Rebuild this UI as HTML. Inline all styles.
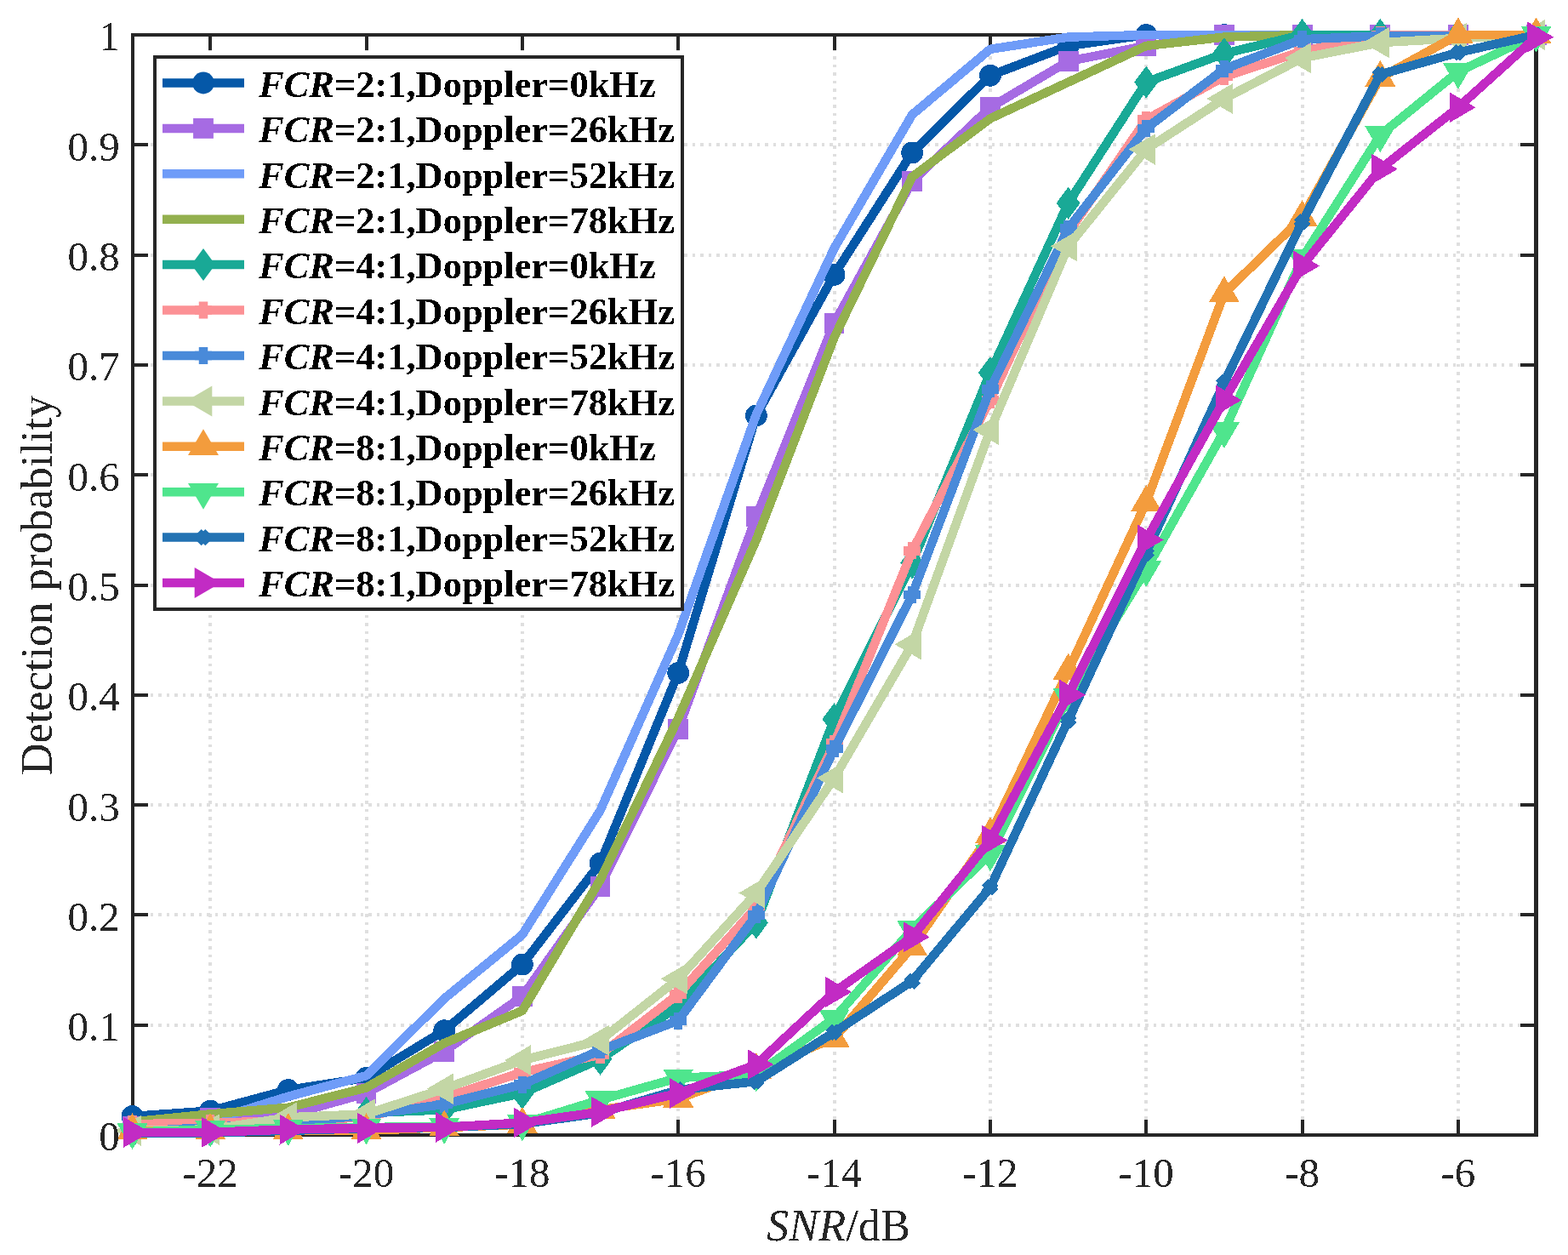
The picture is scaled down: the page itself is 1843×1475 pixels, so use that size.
<!DOCTYPE html><html><head><meta charset="utf-8"><title>Detection probability</title><style>html,body{margin:0;padding:0;background:#fff;}svg{display:block;}text{font-family:"Liberation Serif","Times New Roman",serif;}</style></head><body><svg width="1843" height="1475" viewBox="0 0 1843 1475">
<rect width="1843" height="1475" fill="#fff"/>
<path d="M247 1334.0V41.0 M431 1334.0V41.0 M614 1334.0V41.0 M797 1334.0V41.0 M981 1334.0V41.0 M1164 1334.0V41.0 M1347 1334.0V41.0 M1531 1334.0V41.0 M1714 1334.0V41.0 M1805.6 1205H155.5 M1805.6 1075H155.5 M1805.6 946H155.5 M1805.6 817H155.5 M1805.6 688H155.5 M1805.6 558H155.5 M1805.6 429H155.5 M1805.6 300H155.5 M1805.6 170H155.5" stroke="#dfdfdf" stroke-width="4" stroke-dasharray="3.5 6.009" stroke-dashoffset="0.6" fill="none" shape-rendering="crispEdges"/>
<g fill="#262626" shape-rendering="crispEdges"><rect x="154" y="39" width="4" height="1297"/><rect x="1803" y="39" width="5" height="1297"/><rect x="154" y="39" width="1654" height="4"/><rect x="154" y="1332" width="1654" height="4"/><rect x="245" y="1316" width="4" height="16"/><rect x="245" y="43" width="4" height="16"/><rect x="429" y="1316" width="4" height="16"/><rect x="429" y="43" width="4" height="16"/><rect x="612" y="1316" width="4" height="16"/><rect x="612" y="43" width="4" height="16"/><rect x="795" y="1316" width="4" height="16"/><rect x="795" y="43" width="4" height="16"/><rect x="979" y="1316" width="4" height="16"/><rect x="979" y="43" width="4" height="16"/><rect x="1162" y="1316" width="4" height="16"/><rect x="1162" y="43" width="4" height="16"/><rect x="1345" y="1316" width="4" height="16"/><rect x="1345" y="43" width="4" height="16"/><rect x="1529" y="1316" width="4" height="16"/><rect x="1529" y="43" width="4" height="16"/><rect x="1712" y="1316" width="4" height="16"/><rect x="1712" y="43" width="4" height="16"/><rect x="158" y="1203" width="16" height="4"/><rect x="1787" y="1203" width="16" height="4"/><rect x="158" y="1073" width="16" height="4"/><rect x="1787" y="1073" width="16" height="4"/><rect x="158" y="944" width="16" height="4"/><rect x="1787" y="944" width="16" height="4"/><rect x="158" y="815" width="16" height="4"/><rect x="1787" y="815" width="16" height="4"/><rect x="158" y="686" width="16" height="4"/><rect x="1787" y="686" width="16" height="4"/><rect x="158" y="556" width="16" height="4"/><rect x="1787" y="556" width="16" height="4"/><rect x="158" y="427" width="16" height="4"/><rect x="1787" y="427" width="16" height="4"/><rect x="158" y="298" width="16" height="4"/><rect x="1787" y="298" width="16" height="4"/><rect x="158" y="168" width="16" height="4"/><rect x="1787" y="168" width="16" height="4"/></g>
<g shape-rendering="crispEdges">
<polyline points="155.5,1312.0 247.2,1305.6 338.8,1281.0 430.5,1266.8 522.2,1211.2 613.9,1133.6 705.5,1014.6 797.2,790.9 888.9,488.4 980.5,322.9 1072.2,179.4 1163.9,88.8 1255.6,53.9 1347.2,41.0 1438.9,41.0 1530.6,41.0 1622.3,41.0 1713.9,41.0 1805.6,41.0" fill="none" stroke="#0558a8" stroke-width="10.5" stroke-linejoin="round" stroke-linecap="butt"/>
<circle cx="155.5" cy="1312.0" r="12.9" fill="#0558a8"/><circle cx="247.2" cy="1305.6" r="12.9" fill="#0558a8"/><circle cx="338.8" cy="1281.0" r="12.9" fill="#0558a8"/><circle cx="430.5" cy="1266.8" r="12.9" fill="#0558a8"/><circle cx="522.2" cy="1211.2" r="12.9" fill="#0558a8"/><circle cx="613.9" cy="1133.6" r="12.9" fill="#0558a8"/><circle cx="705.5" cy="1014.6" r="12.9" fill="#0558a8"/><circle cx="797.2" cy="790.9" r="12.9" fill="#0558a8"/><circle cx="888.9" cy="488.4" r="12.9" fill="#0558a8"/><circle cx="980.5" cy="322.9" r="12.9" fill="#0558a8"/><circle cx="1072.2" cy="179.4" r="12.9" fill="#0558a8"/><circle cx="1163.9" cy="88.8" r="12.9" fill="#0558a8"/><circle cx="1255.6" cy="53.9" r="12.9" fill="#0558a8"/><circle cx="1347.2" cy="41.0" r="12.9" fill="#0558a8"/><circle cx="1438.9" cy="41.0" r="12.9" fill="#0558a8"/><circle cx="1530.6" cy="41.0" r="12.9" fill="#0558a8"/><circle cx="1622.3" cy="41.0" r="12.9" fill="#0558a8"/><circle cx="1713.9" cy="41.0" r="12.9" fill="#0558a8"/><circle cx="1805.6" cy="41.0" r="12.9" fill="#0558a8"/>
<polyline points="155.5,1323.7 247.2,1314.0 338.8,1310.7 430.5,1284.9 522.2,1235.7 613.9,1171.1 705.5,1041.8 797.2,856.9 888.9,607.3 980.5,379.8 1072.2,213.0 1163.9,126.3 1255.6,72.0 1347.2,53.9 1438.9,41.0 1530.6,41.0 1622.3,41.0 1713.9,41.0 1805.6,41.0" fill="none" stroke="#a66be3" stroke-width="10.5" stroke-linejoin="round" stroke-linecap="butt"/>
<rect x="143.6" y="1311.8" width="23.8" height="23.8" fill="#a66be3"/><rect x="235.3" y="1302.1" width="23.8" height="23.8" fill="#a66be3"/><rect x="326.9" y="1298.8" width="23.8" height="23.8" fill="#a66be3"/><rect x="418.6" y="1273.0" width="23.8" height="23.8" fill="#a66be3"/><rect x="510.3" y="1223.8" width="23.8" height="23.8" fill="#a66be3"/><rect x="602.0" y="1159.2" width="23.8" height="23.8" fill="#a66be3"/><rect x="693.6" y="1029.9" width="23.8" height="23.8" fill="#a66be3"/><rect x="785.3" y="845.0" width="23.8" height="23.8" fill="#a66be3"/><rect x="877.0" y="595.4" width="23.8" height="23.8" fill="#a66be3"/><rect x="968.6" y="367.9" width="23.8" height="23.8" fill="#a66be3"/><rect x="1060.3" y="201.1" width="23.8" height="23.8" fill="#a66be3"/><rect x="1152.0" y="114.4" width="23.8" height="23.8" fill="#a66be3"/><rect x="1243.7" y="60.1" width="23.8" height="23.8" fill="#a66be3"/><rect x="1335.3" y="42.0" width="23.8" height="23.8" fill="#a66be3"/><rect x="1427.0" y="29.1" width="23.8" height="23.8" fill="#a66be3"/><rect x="1518.7" y="29.1" width="23.8" height="23.8" fill="#a66be3"/><rect x="1610.4" y="29.1" width="23.8" height="23.8" fill="#a66be3"/><rect x="1702.0" y="29.1" width="23.8" height="23.8" fill="#a66be3"/><rect x="1793.7" y="29.1" width="23.8" height="23.8" fill="#a66be3"/>
<polyline points="155.5,1321.1 247.2,1317.2 338.8,1288.7 430.5,1264.2 522.2,1173.7 613.9,1098.7 705.5,952.6 797.2,745.7 888.9,487.1 980.5,291.8 1072.2,134.7 1163.9,57.8 1255.6,43.6 1347.2,41.0 1438.9,41.0 1530.6,41.0 1622.3,41.0 1713.9,41.0 1805.6,41.0" fill="none" stroke="#6f9cf8" stroke-width="10.5" stroke-linejoin="round" stroke-linecap="butt"/>
<polyline points="155.5,1318.5 247.2,1309.4 338.8,1301.7 430.5,1278.4 522.2,1226.0 613.9,1187.9 705.5,1034.0 797.2,844.0 888.9,634.5 980.5,396.6 1072.2,207.8 1163.9,139.3 1255.6,96.6 1347.2,53.9 1438.9,43.6 1530.6,41.0 1622.3,41.0 1713.9,41.0 1805.6,41.0" fill="none" stroke="#93b04e" stroke-width="10.5" stroke-linejoin="round" stroke-linecap="butt"/>
<polyline points="155.5,1331.4 247.2,1328.8 338.8,1322.4 430.5,1308.1 522.2,1304.3 613.9,1284.9 705.5,1244.8 797.2,1182.7 888.9,1084.5 980.5,845.2 1072.2,661.6 1163.9,438.0 1255.6,238.8 1347.2,96.6 1438.9,63.0 1530.6,41.0 1622.3,41.0 1713.9,41.0 1805.6,41.0" fill="none" stroke="#19a996" stroke-width="10.5" stroke-linejoin="round" stroke-linecap="butt"/>
<polygon points="155.5,1312.4 169.5,1331.4 155.5,1350.4 141.5,1331.4" fill="#19a996"/><polygon points="247.2,1309.8 261.2,1328.8 247.2,1347.8 233.2,1328.8" fill="#19a996"/><polygon points="338.8,1303.4 352.8,1322.4 338.8,1341.4 324.8,1322.4" fill="#19a996"/><polygon points="430.5,1289.1 444.5,1308.1 430.5,1327.1 416.5,1308.1" fill="#19a996"/><polygon points="522.2,1285.3 536.2,1304.3 522.2,1323.3 508.2,1304.3" fill="#19a996"/><polygon points="613.9,1265.9 627.9,1284.9 613.9,1303.9 599.9,1284.9" fill="#19a996"/><polygon points="705.5,1225.8 719.5,1244.8 705.5,1263.8 691.5,1244.8" fill="#19a996"/><polygon points="797.2,1163.7 811.2,1182.7 797.2,1201.7 783.2,1182.7" fill="#19a996"/><polygon points="888.9,1065.5 902.9,1084.5 888.9,1103.5 874.9,1084.5" fill="#19a996"/><polygon points="980.5,826.2 994.5,845.2 980.5,864.2 966.5,845.2" fill="#19a996"/><polygon points="1072.2,642.6 1086.2,661.6 1072.2,680.6 1058.2,661.6" fill="#19a996"/><polygon points="1163.9,419.0 1177.9,438.0 1163.9,457.0 1149.9,438.0" fill="#19a996"/><polygon points="1255.6,219.8 1269.6,238.8 1255.6,257.8 1241.6,238.8" fill="#19a996"/><polygon points="1347.2,77.6 1361.2,96.6 1347.2,115.6 1333.2,96.6" fill="#19a996"/><polygon points="1438.9,44.0 1452.9,63.0 1438.9,82.0 1424.9,63.0" fill="#19a996"/><polygon points="1530.6,22.0 1544.6,41.0 1530.6,60.0 1516.6,41.0" fill="#19a996"/><polygon points="1622.3,22.0 1636.3,41.0 1622.3,60.0 1608.3,41.0" fill="#19a996"/><polygon points="1713.9,22.0 1727.9,41.0 1713.9,60.0 1699.9,41.0" fill="#19a996"/><polygon points="1805.6,22.0 1819.6,41.0 1805.6,60.0 1791.6,41.0" fill="#19a996"/>
<polyline points="155.5,1321.1 247.2,1319.8 338.8,1317.2 430.5,1313.3 522.2,1290.0 613.9,1260.3 705.5,1239.6 797.2,1168.5 888.9,1066.3 980.5,873.7 1072.2,647.4 1163.9,470.3 1255.6,273.7 1347.2,140.6 1438.9,90.1 1530.6,60.4 1622.3,41.0 1713.9,41.0 1805.6,41.0" fill="none" stroke="#fc9195" stroke-width="10.5" stroke-linejoin="round" stroke-linecap="butt"/>
<path d="M145.5 1321.1h20M155.5 1311.1v20" stroke="#fc9195" stroke-width="10.5" fill="none"/><path d="M237.2 1319.8h20M247.2 1309.8v20" stroke="#fc9195" stroke-width="10.5" fill="none"/><path d="M328.8 1317.2h20M338.8 1307.2v20" stroke="#fc9195" stroke-width="10.5" fill="none"/><path d="M420.5 1313.3h20M430.5 1303.3v20" stroke="#fc9195" stroke-width="10.5" fill="none"/><path d="M512.2 1290.0h20M522.2 1280.0v20" stroke="#fc9195" stroke-width="10.5" fill="none"/><path d="M603.9 1260.3h20M613.9 1250.3v20" stroke="#fc9195" stroke-width="10.5" fill="none"/><path d="M695.5 1239.6h20M705.5 1229.6v20" stroke="#fc9195" stroke-width="10.5" fill="none"/><path d="M787.2 1168.5h20M797.2 1158.5v20" stroke="#fc9195" stroke-width="10.5" fill="none"/><path d="M878.9 1066.3h20M888.9 1056.3v20" stroke="#fc9195" stroke-width="10.5" fill="none"/><path d="M970.5 873.7h20M980.5 863.7v20" stroke="#fc9195" stroke-width="10.5" fill="none"/><path d="M1062.2 647.4h20M1072.2 637.4v20" stroke="#fc9195" stroke-width="10.5" fill="none"/><path d="M1153.9 470.3h20M1163.9 460.3v20" stroke="#fc9195" stroke-width="10.5" fill="none"/><path d="M1245.6 273.7h20M1255.6 263.7v20" stroke="#fc9195" stroke-width="10.5" fill="none"/><path d="M1337.2 140.6h20M1347.2 130.6v20" stroke="#fc9195" stroke-width="10.5" fill="none"/><path d="M1428.9 90.1h20M1438.9 80.1v20" stroke="#fc9195" stroke-width="10.5" fill="none"/><path d="M1520.6 60.4h20M1530.6 50.4v20" stroke="#fc9195" stroke-width="10.5" fill="none"/><path d="M1612.3 41.0h20M1622.3 31.0v20" stroke="#fc9195" stroke-width="10.5" fill="none"/><path d="M1703.9 41.0h20M1713.9 31.0v20" stroke="#fc9195" stroke-width="10.5" fill="none"/><path d="M1795.6 41.0h20M1805.6 31.0v20" stroke="#fc9195" stroke-width="10.5" fill="none"/>
<polyline points="155.5,1330.1 247.2,1324.9 338.8,1319.8 430.5,1310.7 522.2,1297.8 613.9,1274.5 705.5,1234.4 797.2,1199.5 888.9,1075.4 980.5,880.2 1072.2,699.1 1163.9,457.3 1255.6,268.6 1347.2,150.9 1438.9,81.1 1530.6,46.2 1622.3,42.3 1713.9,42.3 1805.6,41.0" fill="none" stroke="#498ad9" stroke-width="10.5" stroke-linejoin="round" stroke-linecap="butt"/>
<path d="M145.5 1330.1h20M155.5 1320.1v20" stroke="#498ad9" stroke-width="10.5" fill="none"/><path d="M237.2 1324.9h20M247.2 1314.9v20" stroke="#498ad9" stroke-width="10.5" fill="none"/><path d="M328.8 1319.8h20M338.8 1309.8v20" stroke="#498ad9" stroke-width="10.5" fill="none"/><path d="M420.5 1310.7h20M430.5 1300.7v20" stroke="#498ad9" stroke-width="10.5" fill="none"/><path d="M512.2 1297.8h20M522.2 1287.8v20" stroke="#498ad9" stroke-width="10.5" fill="none"/><path d="M603.9 1274.5h20M613.9 1264.5v20" stroke="#498ad9" stroke-width="10.5" fill="none"/><path d="M695.5 1234.4h20M705.5 1224.4v20" stroke="#498ad9" stroke-width="10.5" fill="none"/><path d="M787.2 1199.5h20M797.2 1189.5v20" stroke="#498ad9" stroke-width="10.5" fill="none"/><path d="M878.9 1075.4h20M888.9 1065.4v20" stroke="#498ad9" stroke-width="10.5" fill="none"/><path d="M970.5 880.2h20M980.5 870.2v20" stroke="#498ad9" stroke-width="10.5" fill="none"/><path d="M1062.2 699.1h20M1072.2 689.1v20" stroke="#498ad9" stroke-width="10.5" fill="none"/><path d="M1153.9 457.3h20M1163.9 447.3v20" stroke="#498ad9" stroke-width="10.5" fill="none"/><path d="M1245.6 268.6h20M1255.6 258.6v20" stroke="#498ad9" stroke-width="10.5" fill="none"/><path d="M1337.2 150.9h20M1347.2 140.9v20" stroke="#498ad9" stroke-width="10.5" fill="none"/><path d="M1428.9 81.1h20M1438.9 71.1v20" stroke="#498ad9" stroke-width="10.5" fill="none"/><path d="M1520.6 46.2h20M1530.6 36.2v20" stroke="#498ad9" stroke-width="10.5" fill="none"/><path d="M1612.3 42.3h20M1622.3 32.3v20" stroke="#498ad9" stroke-width="10.5" fill="none"/><path d="M1703.9 42.3h20M1713.9 32.3v20" stroke="#498ad9" stroke-width="10.5" fill="none"/><path d="M1795.6 41.0h20M1805.6 31.0v20" stroke="#498ad9" stroke-width="10.5" fill="none"/>
<polyline points="155.5,1328.8 247.2,1327.5 338.8,1313.3 430.5,1309.4 522.2,1279.7 613.9,1246.1 705.5,1222.8 797.2,1150.4 888.9,1049.5 980.5,914.4 1072.2,757.3 1163.9,505.2 1255.6,289.3 1347.2,175.5 1438.9,116.0 1530.6,68.2 1622.3,50.1 1713.9,44.9 1805.6,41.0" fill="none" stroke="#c3d6a5" stroke-width="10.5" stroke-linejoin="round" stroke-linecap="butt"/>
<polygon points="135.0,1328.8 165.8,1310.8 165.8,1346.8" fill="#c3d6a5"/><polygon points="226.7,1327.5 257.5,1309.5 257.5,1345.5" fill="#c3d6a5"/><polygon points="318.3,1313.3 349.1,1295.3 349.1,1331.3" fill="#c3d6a5"/><polygon points="410.0,1309.4 440.8,1291.4 440.8,1327.4" fill="#c3d6a5"/><polygon points="501.7,1279.7 532.5,1261.7 532.5,1297.7" fill="#c3d6a5"/><polygon points="593.4,1246.1 624.2,1228.1 624.2,1264.1" fill="#c3d6a5"/><polygon points="685.0,1222.8 715.8,1204.8 715.8,1240.8" fill="#c3d6a5"/><polygon points="776.7,1150.4 807.5,1132.4 807.5,1168.4" fill="#c3d6a5"/><polygon points="868.4,1049.5 899.2,1031.5 899.2,1067.5" fill="#c3d6a5"/><polygon points="960.0,914.4 990.8,896.4 990.8,932.4" fill="#c3d6a5"/><polygon points="1051.7,757.3 1082.5,739.3 1082.5,775.3" fill="#c3d6a5"/><polygon points="1143.4,505.2 1174.2,487.2 1174.2,523.2" fill="#c3d6a5"/><polygon points="1235.1,289.3 1265.9,271.3 1265.9,307.3" fill="#c3d6a5"/><polygon points="1326.7,175.5 1357.5,157.5 1357.5,193.5" fill="#c3d6a5"/><polygon points="1418.4,116.0 1449.2,98.0 1449.2,134.0" fill="#c3d6a5"/><polygon points="1510.1,68.2 1540.9,50.2 1540.9,86.2" fill="#c3d6a5"/><polygon points="1601.8,50.1 1632.6,32.1 1632.6,68.1" fill="#c3d6a5"/><polygon points="1693.4,44.9 1724.2,26.9 1724.2,62.9" fill="#c3d6a5"/><polygon points="1785.1,41.0 1815.9,23.0 1815.9,59.0" fill="#c3d6a5"/>
<polyline points="155.5,1328.8 247.2,1328.8 338.8,1328.8 430.5,1328.8 522.2,1325.1 613.9,1321.6 705.5,1304.3 797.2,1291.3 888.9,1257.7 980.5,1220.2 1072.2,1112.9 1163.9,981.0 1255.6,788.4 1347.2,590.5 1438.9,344.9 1530.6,255.6 1622.3,91.4 1713.9,41.0 1805.6,41.0" fill="none" stroke="#f39c3d" stroke-width="10.5" stroke-linejoin="round" stroke-linecap="butt"/>
<polygon points="155.5,1308.2 173.5,1339.1 137.5,1339.1" fill="#f39c3d"/><polygon points="247.2,1308.2 265.2,1339.1 229.2,1339.1" fill="#f39c3d"/><polygon points="338.8,1308.2 356.8,1339.1 320.8,1339.1" fill="#f39c3d"/><polygon points="430.5,1308.2 448.5,1339.1 412.5,1339.1" fill="#f39c3d"/><polygon points="522.2,1304.5 540.2,1335.4 504.2,1335.4" fill="#f39c3d"/><polygon points="613.9,1301.0 631.9,1331.9 595.9,1331.9" fill="#f39c3d"/><polygon points="705.5,1283.7 723.5,1314.6 687.5,1314.6" fill="#f39c3d"/><polygon points="797.2,1270.7 815.2,1301.6 779.2,1301.6" fill="#f39c3d"/><polygon points="888.9,1237.1 906.9,1268.0 870.9,1268.0" fill="#f39c3d"/><polygon points="980.5,1199.6 998.5,1230.5 962.5,1230.5" fill="#f39c3d"/><polygon points="1072.2,1092.3 1090.2,1123.2 1054.2,1123.2" fill="#f39c3d"/><polygon points="1163.9,960.4 1181.9,991.3 1145.9,991.3" fill="#f39c3d"/><polygon points="1255.6,767.8 1273.6,798.7 1237.6,798.7" fill="#f39c3d"/><polygon points="1347.2,569.9 1365.2,600.8 1329.2,600.8" fill="#f39c3d"/><polygon points="1438.9,324.3 1456.9,355.2 1420.9,355.2" fill="#f39c3d"/><polygon points="1530.6,235.0 1548.6,265.9 1512.6,265.9" fill="#f39c3d"/><polygon points="1622.3,70.8 1640.3,101.7 1604.3,101.7" fill="#f39c3d"/><polygon points="1713.9,20.4 1731.9,51.3 1695.9,51.3" fill="#f39c3d"/><polygon points="1805.6,20.4 1823.6,51.3 1787.6,51.3" fill="#f39c3d"/>
<polyline points="155.5,1330.6 247.2,1327.5 338.8,1326.2 430.5,1324.9 522.2,1324.3 613.9,1320.7 705.5,1292.6 797.2,1266.8 888.9,1262.9 980.5,1196.9 1072.2,1092.2 1163.9,1003.6 1255.6,819.4 1347.2,669.4 1438.9,506.5 1530.6,303.5 1622.3,158.7 1713.9,84.3 1805.6,41.0" fill="none" stroke="#4fe58d" stroke-width="10.5" stroke-linejoin="round" stroke-linecap="butt"/>
<polygon points="155.5,1351.2 173.5,1320.3 137.5,1320.3" fill="#4fe58d"/><polygon points="247.2,1348.1 265.2,1317.2 229.2,1317.2" fill="#4fe58d"/><polygon points="338.8,1346.8 356.8,1315.9 320.8,1315.9" fill="#4fe58d"/><polygon points="430.5,1345.5 448.5,1314.6 412.5,1314.6" fill="#4fe58d"/><polygon points="522.2,1344.9 540.2,1314.0 504.2,1314.0" fill="#4fe58d"/><polygon points="613.9,1341.3 631.9,1310.4 595.9,1310.4" fill="#4fe58d"/><polygon points="705.5,1313.2 723.5,1282.3 687.5,1282.3" fill="#4fe58d"/><polygon points="797.2,1287.4 815.2,1256.5 779.2,1256.5" fill="#4fe58d"/><polygon points="888.9,1283.5 906.9,1252.6 870.9,1252.6" fill="#4fe58d"/><polygon points="980.5,1217.5 998.5,1186.6 962.5,1186.6" fill="#4fe58d"/><polygon points="1072.2,1112.8 1090.2,1081.9 1054.2,1081.9" fill="#4fe58d"/><polygon points="1163.9,1024.2 1181.9,993.3 1145.9,993.3" fill="#4fe58d"/><polygon points="1255.6,840.0 1273.6,809.1 1237.6,809.1" fill="#4fe58d"/><polygon points="1347.2,690.0 1365.2,659.1 1329.2,659.1" fill="#4fe58d"/><polygon points="1438.9,527.1 1456.9,496.2 1420.9,496.2" fill="#4fe58d"/><polygon points="1530.6,324.1 1548.6,293.2 1512.6,293.2" fill="#4fe58d"/><polygon points="1622.3,179.3 1640.3,148.4 1604.3,148.4" fill="#4fe58d"/><polygon points="1713.9,104.9 1731.9,74.0 1695.9,74.0" fill="#4fe58d"/><polygon points="1805.6,61.6 1823.6,30.7 1787.6,30.7" fill="#4fe58d"/>
<polyline points="155.5,1332.1 247.2,1331.4 338.8,1328.8 430.5,1326.2 522.2,1324.9 613.9,1321.1 705.5,1308.1 797.2,1281.0 888.9,1271.0 980.5,1213.2 1072.2,1153.0 1163.9,1043.1 1255.6,846.5 1347.2,650.0 1438.9,449.6 1530.6,260.8 1622.3,87.5 1713.9,61.7 1805.6,41.0" fill="none" stroke="#2272b3" stroke-width="10.5" stroke-linejoin="round" stroke-linecap="butt"/>
<path d="M149.5 1326.1L161.5 1338.1M149.5 1338.1L161.5 1326.1" stroke="#2272b3" stroke-width="10.5" fill="none"/><path d="M241.2 1325.4L253.2 1337.4M241.2 1337.4L253.2 1325.4" stroke="#2272b3" stroke-width="10.5" fill="none"/><path d="M332.8 1322.8L344.8 1334.8M332.8 1334.8L344.8 1322.8" stroke="#2272b3" stroke-width="10.5" fill="none"/><path d="M424.5 1320.2L436.5 1332.2M424.5 1332.2L436.5 1320.2" stroke="#2272b3" stroke-width="10.5" fill="none"/><path d="M516.2 1318.9L528.2 1330.9M516.2 1330.9L528.2 1318.9" stroke="#2272b3" stroke-width="10.5" fill="none"/><path d="M607.9 1315.1L619.9 1327.1M607.9 1327.1L619.9 1315.1" stroke="#2272b3" stroke-width="10.5" fill="none"/><path d="M699.5 1302.1L711.5 1314.1M699.5 1314.1L711.5 1302.1" stroke="#2272b3" stroke-width="10.5" fill="none"/><path d="M791.2 1275.0L803.2 1287.0M791.2 1287.0L803.2 1275.0" stroke="#2272b3" stroke-width="10.5" fill="none"/><path d="M882.9 1265.0L894.9 1277.0M882.9 1277.0L894.9 1265.0" stroke="#2272b3" stroke-width="10.5" fill="none"/><path d="M974.5 1207.2L986.5 1219.2M974.5 1219.2L986.5 1207.2" stroke="#2272b3" stroke-width="10.5" fill="none"/><path d="M1066.2 1147.0L1078.2 1159.0M1066.2 1159.0L1078.2 1147.0" stroke="#2272b3" stroke-width="10.5" fill="none"/><path d="M1157.9 1037.1L1169.9 1049.1M1157.9 1049.1L1169.9 1037.1" stroke="#2272b3" stroke-width="10.5" fill="none"/><path d="M1249.6 840.5L1261.6 852.5M1249.6 852.5L1261.6 840.5" stroke="#2272b3" stroke-width="10.5" fill="none"/><path d="M1341.2 644.0L1353.2 656.0M1341.2 656.0L1353.2 644.0" stroke="#2272b3" stroke-width="10.5" fill="none"/><path d="M1432.9 443.6L1444.9 455.6M1432.9 455.6L1444.9 443.6" stroke="#2272b3" stroke-width="10.5" fill="none"/><path d="M1524.6 254.8L1536.6 266.8M1524.6 266.8L1536.6 254.8" stroke="#2272b3" stroke-width="10.5" fill="none"/><path d="M1616.3 81.5L1628.3 93.5M1616.3 93.5L1628.3 81.5" stroke="#2272b3" stroke-width="10.5" fill="none"/><path d="M1707.9 55.7L1719.9 67.7M1707.9 67.7L1719.9 55.7" stroke="#2272b3" stroke-width="10.5" fill="none"/><path d="M1799.6 35.0L1811.6 47.0M1799.6 47.0L1811.6 35.0" stroke="#2272b3" stroke-width="10.5" fill="none"/>
<polyline points="155.5,1330.8 247.2,1330.8 338.8,1327.5 430.5,1325.9 522.2,1324.9 613.9,1319.5 705.5,1306.8 797.2,1284.9 888.9,1251.2 980.5,1165.9 1072.2,1101.3 1163.9,987.5 1255.6,816.8 1347.2,634.5 1438.9,470.3 1530.6,312.5 1622.3,198.7 1713.9,126.3 1805.6,43.6" fill="none" stroke="#c22bc4" stroke-width="10.5" stroke-linejoin="round" stroke-linecap="butt"/>
<polygon points="176.0,1330.8 145.2,1312.8 145.2,1348.8" fill="#c22bc4"/><polygon points="267.7,1330.8 236.9,1312.8 236.9,1348.8" fill="#c22bc4"/><polygon points="359.3,1327.5 328.5,1309.5 328.5,1345.5" fill="#c22bc4"/><polygon points="451.0,1325.9 420.2,1307.9 420.2,1343.9" fill="#c22bc4"/><polygon points="542.7,1324.9 511.9,1306.9 511.9,1342.9" fill="#c22bc4"/><polygon points="634.4,1319.5 603.6,1301.5 603.6,1337.5" fill="#c22bc4"/><polygon points="726.0,1306.8 695.2,1288.8 695.2,1324.8" fill="#c22bc4"/><polygon points="817.7,1284.9 786.9,1266.9 786.9,1302.9" fill="#c22bc4"/><polygon points="909.4,1251.2 878.6,1233.2 878.6,1269.2" fill="#c22bc4"/><polygon points="1001.0,1165.9 970.2,1147.9 970.2,1183.9" fill="#c22bc4"/><polygon points="1092.7,1101.3 1061.9,1083.3 1061.9,1119.3" fill="#c22bc4"/><polygon points="1184.4,987.5 1153.6,969.5 1153.6,1005.5" fill="#c22bc4"/><polygon points="1276.1,816.8 1245.3,798.8 1245.3,834.8" fill="#c22bc4"/><polygon points="1367.7,634.5 1336.9,616.5 1336.9,652.5" fill="#c22bc4"/><polygon points="1459.4,470.3 1428.6,452.3 1428.6,488.3" fill="#c22bc4"/><polygon points="1551.1,312.5 1520.3,294.5 1520.3,330.5" fill="#c22bc4"/><polygon points="1642.8,198.7 1612.0,180.7 1612.0,216.7" fill="#c22bc4"/><polygon points="1734.4,126.3 1703.6,108.3 1703.6,144.3" fill="#c22bc4"/><polygon points="1826.1,43.6 1795.3,25.6 1795.3,61.6" fill="#c22bc4"/>
</g>
<defs><filter id="bin" x="0" y="0" width="1843" height="1475" filterUnits="userSpaceOnUse"><feComponentTransfer><feFuncA type="discrete" tableValues="0 1"/></feComponentTransfer></filter></defs>
<g filter="url(#bin)">
<g font-size="49" fill="#262626"><text x="247.2" y="1394.6" text-anchor="middle">-22</text><text x="430.5" y="1394.6" text-anchor="middle">-20</text><text x="613.9" y="1394.6" text-anchor="middle">-18</text><text x="797.2" y="1394.6" text-anchor="middle">-16</text><text x="980.5" y="1394.6" text-anchor="middle">-14</text><text x="1163.9" y="1394.6" text-anchor="middle">-12</text><text x="1347.2" y="1394.6" text-anchor="middle">-10</text><text x="1530.6" y="1394.6" text-anchor="middle">-8</text><text x="1713.9" y="1394.6" text-anchor="middle">-6</text><text x="140.8" y="1352.4" text-anchor="end">0</text><text x="140.8" y="1223.1" text-anchor="end">0.1</text><text x="140.8" y="1093.8" text-anchor="end">0.2</text><text x="140.8" y="964.5" text-anchor="end">0.3</text><text x="140.8" y="835.2" text-anchor="end">0.4</text><text x="140.8" y="705.9" text-anchor="end">0.5</text><text x="140.8" y="576.6" text-anchor="end">0.6</text><text x="140.8" y="447.3" text-anchor="end">0.7</text><text x="140.8" y="318.0" text-anchor="end">0.8</text><text x="140.8" y="188.7" text-anchor="end">0.9</text><text x="140.8" y="59.4" text-anchor="end">1</text></g>
<text x="985.5" y="1457.5" text-anchor="middle" font-size="52.4" fill="#262626"><tspan font-style="italic">SNR</tspan>/dB</text>
<text transform="translate(60.6 688) rotate(-90)" text-anchor="middle" font-size="52.4" fill="#262626">Detection probability</text>
</g>
<rect x="182" y="67" width="620" height="649" fill="#fff"/>
<g fill="#262626" shape-rendering="crispEdges"><rect x="180" y="65" width="4" height="653"/><rect x="800" y="65" width="4" height="653"/><rect x="180" y="65" width="624" height="4"/><rect x="180" y="714" width="624" height="4"/></g>
<line x1="191" y1="97.5" x2="287" y2="97.5" stroke="#0558a8" stroke-width="10.5"/>
<circle cx="239.0" cy="97.5" r="12.9" fill="#0558a8"/>
<line x1="191" y1="150.9" x2="287" y2="150.9" stroke="#a66be3" stroke-width="10.5"/>
<rect x="227.1" y="139.0" width="23.8" height="23.8" fill="#a66be3"/>
<line x1="191" y1="204.3" x2="287" y2="204.3" stroke="#6f9cf8" stroke-width="10.5"/>
<line x1="191" y1="257.7" x2="287" y2="257.7" stroke="#93b04e" stroke-width="10.5"/>
<line x1="191" y1="311.1" x2="287" y2="311.1" stroke="#19a996" stroke-width="10.5"/>
<polygon points="239.0,292.1 253.0,311.1 239.0,330.1 225.0,311.1" fill="#19a996"/>
<line x1="191" y1="364.5" x2="287" y2="364.5" stroke="#fc9195" stroke-width="10.5"/>
<path d="M229.0 364.5h20M239.0 354.5v20" stroke="#fc9195" stroke-width="10.5" fill="none"/>
<line x1="191" y1="418.0" x2="287" y2="418.0" stroke="#498ad9" stroke-width="10.5"/>
<path d="M229.0 418.0h20M239.0 408.0v20" stroke="#498ad9" stroke-width="10.5" fill="none"/>
<line x1="191" y1="471.4" x2="287" y2="471.4" stroke="#c3d6a5" stroke-width="10.5"/>
<polygon points="218.5,471.4 249.3,453.4 249.3,489.4" fill="#c3d6a5"/>
<line x1="191" y1="524.8" x2="287" y2="524.8" stroke="#f39c3d" stroke-width="10.5"/>
<polygon points="239.0,504.2 257.0,535.1 221.0,535.1" fill="#f39c3d"/>
<line x1="191" y1="578.2" x2="287" y2="578.2" stroke="#4fe58d" stroke-width="10.5"/>
<polygon points="239.0,598.8 257.0,567.9 221.0,567.9" fill="#4fe58d"/>
<line x1="191" y1="631.6" x2="287" y2="631.6" stroke="#2272b3" stroke-width="10.5"/>
<path d="M233.0 625.6L245.0 637.6M233.0 637.6L245.0 625.6" stroke="#2272b3" stroke-width="10.5" fill="none"/>
<line x1="191" y1="685.0" x2="287" y2="685.0" stroke="#c22bc4" stroke-width="10.5"/>
<polygon points="259.5,685.0 228.7,667.0 228.7,703.0" fill="#c22bc4"/>
<g filter="url(#bin)"><text x="304" y="113.7" font-size="44.45" font-weight="bold" fill="#000"><tspan font-style="italic">FCR</tspan>=2:1,Doppler=0kHz</text><text x="304" y="167.1" font-size="44.45" font-weight="bold" fill="#000"><tspan font-style="italic">FCR</tspan>=2:1,Doppler=26kHz</text><text x="304" y="220.5" font-size="44.45" font-weight="bold" fill="#000"><tspan font-style="italic">FCR</tspan>=2:1,Doppler=52kHz</text><text x="304" y="273.9" font-size="44.45" font-weight="bold" fill="#000"><tspan font-style="italic">FCR</tspan>=2:1,Doppler=78kHz</text><text x="304" y="327.3" font-size="44.45" font-weight="bold" fill="#000"><tspan font-style="italic">FCR</tspan>=4:1,Doppler=0kHz</text><text x="304" y="380.7" font-size="44.45" font-weight="bold" fill="#000"><tspan font-style="italic">FCR</tspan>=4:1,Doppler=26kHz</text><text x="304" y="434.2" font-size="44.45" font-weight="bold" fill="#000"><tspan font-style="italic">FCR</tspan>=4:1,Doppler=52kHz</text><text x="304" y="487.6" font-size="44.45" font-weight="bold" fill="#000"><tspan font-style="italic">FCR</tspan>=4:1,Doppler=78kHz</text><text x="304" y="541.0" font-size="44.45" font-weight="bold" fill="#000"><tspan font-style="italic">FCR</tspan>=8:1,Doppler=0kHz</text><text x="304" y="594.4" font-size="44.45" font-weight="bold" fill="#000"><tspan font-style="italic">FCR</tspan>=8:1,Doppler=26kHz</text><text x="304" y="647.8" font-size="44.45" font-weight="bold" fill="#000"><tspan font-style="italic">FCR</tspan>=8:1,Doppler=52kHz</text><text x="304" y="701.2" font-size="44.45" font-weight="bold" fill="#000"><tspan font-style="italic">FCR</tspan>=8:1,Doppler=78kHz</text></g>
</svg></body></html>
